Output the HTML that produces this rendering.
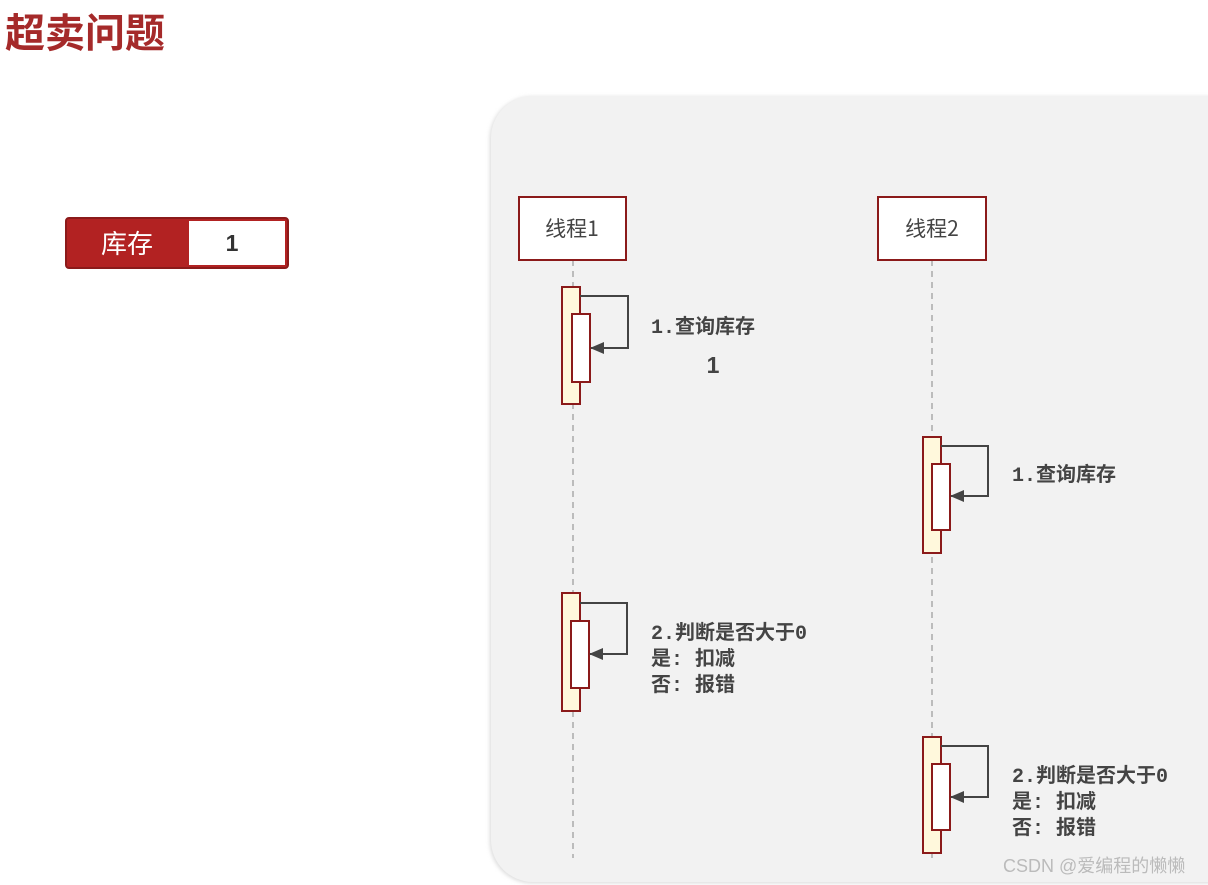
<!DOCTYPE html>
<html><head><meta charset="utf-8"><style>
html,body{margin:0;padding:0;background:#fff;}
svg{display:block;}
text{font-family:"Liberation Sans","Noto Sans CJK SC",sans-serif;}
.m{font-family:"Liberation Mono","Noto Sans CJK SC",monospace;font-size:20px;fill:#444;font-weight:bold;}
</style></head><body>
<svg width="1208" height="885" viewBox="0 0 1208 885" xmlns="http://www.w3.org/2000/svg">
<defs>
<marker id="a" markerWidth="14" markerHeight="12" refX="13" refY="6" orient="auto" markerUnits="userSpaceOnUse">
<path d="M0,0 L14,6 L0,12 Z" fill="#444"/></marker>
<filter id="sh" x="-5%" y="-5%" width="110%" height="110%"><feGaussianBlur stdDeviation="2"/></filter>
</defs>
<text x="5" y="47" font-size="40" font-weight="bold" fill="#a52a2a" style="font-family:'Noto Sans CJK SC',sans-serif">超卖问题</text>
<rect x="66" y="218" width="222" height="50" rx="3" fill="#b22222" stroke="#8b1a1a" stroke-width="2"/>
<rect x="189" y="221" width="96" height="44" fill="#fff"/>
<text x="127" y="253" font-size="26" fill="#fff" text-anchor="middle" style="font-family:'Noto Sans CJK SC',sans-serif">库存</text>
<text x="232" y="251" font-size="23" font-weight="bold" fill="#333" text-anchor="middle">1</text>

<rect x="490" y="97" width="760" height="786" rx="42" fill="#d8d8d8" filter="url(#sh)"/>
<rect x="491" y="96" width="760" height="786" rx="42" fill="#f2f2f2"/>

<line x1="573" y1="260" x2="573" y2="858" stroke="#aaa" stroke-width="1.5" stroke-dasharray="6,5"/>
<line x1="932" y1="260" x2="932" y2="858" stroke="#aaa" stroke-width="1.5" stroke-dasharray="6,5"/>
<rect x="519" y="197" width="107" height="63" fill="#fff" stroke="#8b1a1a" stroke-width="2"/>
<rect x="878" y="197" width="108" height="63" fill="#fff" stroke="#8b1a1a" stroke-width="2"/>
<text x="572" y="236" font-size="21" fill="#444" text-anchor="middle" style="font-family:'Noto Sans CJK SC',sans-serif">线程1</text>
<text x="932" y="236" font-size="21" fill="#444" text-anchor="middle" style="font-family:'Noto Sans CJK SC',sans-serif">线程2</text>

<g stroke="#8b1a1a" stroke-width="2">
<rect x="562" y="287" width="18" height="117" fill="#fff8dc"/>
<rect x="572" y="314" width="18" height="68" fill="#fff"/>
<rect x="923" y="437" width="18" height="116" fill="#fff8dc"/>
<rect x="932" y="464" width="18" height="66" fill="#fff"/>
<rect x="562" y="593" width="18" height="118" fill="#fff8dc"/>
<rect x="571" y="621" width="18" height="67" fill="#fff"/>
<rect x="923" y="737" width="18" height="116" fill="#fff8dc"/>
<rect x="932" y="764" width="18" height="66" fill="#fff"/>
</g>
<g stroke="#444" stroke-width="2" fill="none">
<path d="M580,296 H628 V348 H591" marker-end="url(#a)"/>
<path d="M941,446 H988 V496 H951" marker-end="url(#a)"/>
<path d="M580,603 H627 V654 H590" marker-end="url(#a)"/>
<path d="M941,746 H988 V797 H951" marker-end="url(#a)"/>
</g>

<text class="m" x="651" y="333">1.查询库存</text>
<text x="713" y="373" font-size="23" font-weight="bold" fill="#444" text-anchor="middle">1</text>
<text class="m" x="1012" y="481">1.查询库存</text>
<text class="m" x="651" y="639">2.判断是否大于0</text>
<text class="m" x="651" y="665">是: 扣减</text>
<text class="m" x="651" y="691">否: 报错</text>
<text class="m" x="1012" y="782">2.判断是否大于0</text>
<text class="m" x="1012" y="808">是: 扣减</text>
<text class="m" x="1012" y="834">否: 报错</text>
<text x="1003" y="872" font-size="18" fill="#bbb">CSDN @爱编程的懒懒</text>
</svg>
</body></html>
